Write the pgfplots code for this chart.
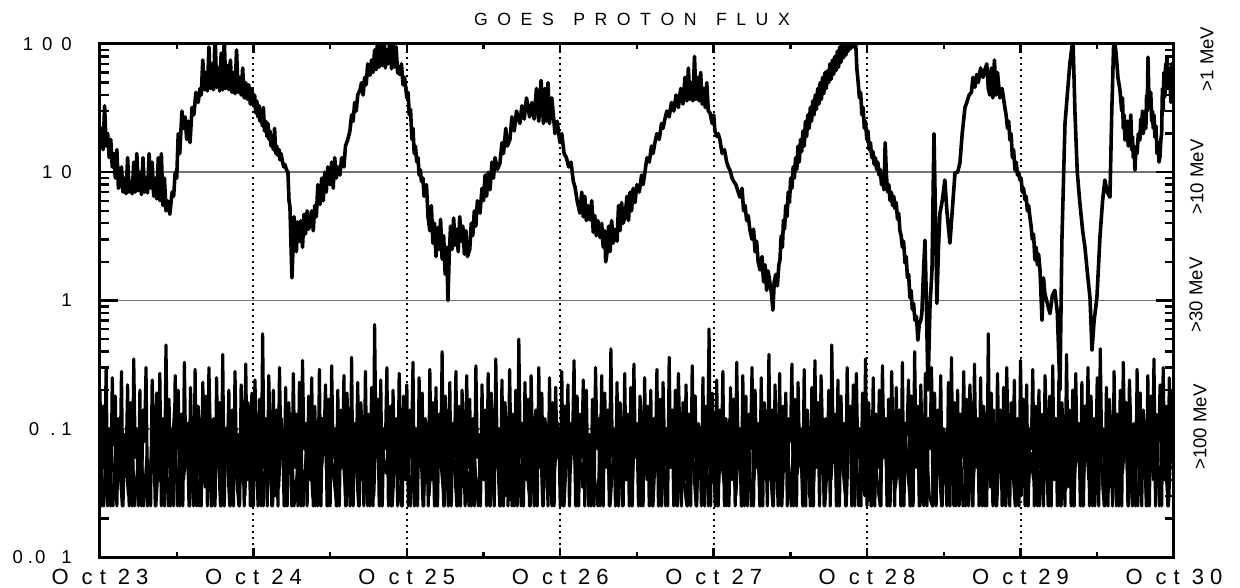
\documentclass[border=0pt]{standalone}
\usepackage{fontspec}
\setmainfont{Liberation Sans}
\usepackage{pgfplots}
\pgfplotsset{compat=1.18}
\usepackage{pgfplotstable}

\newcommand{\oct}[2]{O\kern13bp c\kern7bp t\kern12bp #1\kern6bp #2}
\newcommand{\ls}{\kern9.5bp}

% background channel A (one value every 0.01 day from Oct 23 00:00)
\pgfplotstableread[row sep=\\, header=false]{
0.2\\0.025\\0.15\\0.05\\0.3\\0.025\\0.1\\0.025\\0.25\\0.075\\0.18\\0.025\\0.12\\0.04\\0.28\\0.025\\0.09\\0.05\\0.22\\0.025\\
0.16\\0.025\\0.35\\0.06\\0.1\\0.025\\0.2\\0.025\\0.14\\0.08\\0.3\\0.025\\0.05\\0.025\\0.24\\0.1\\0.025\\0.19\\0.04\\0.27\\
0.025\\0.12\\0.025\\0.45\\0.05\\0.17\\0.025\\0.1\\0.025\\0.26\\0.07\\0.2\\0.025\\0.13\\0.025\\0.33\\0.05\\0.11\\0.025\\0.21\\
0.06\\0.025\\0.29\\0.025\\0.15\\0.09\\0.025\\0.23\\0.04\\0.18\\0.025\\0.3\\0.08\\0.025\\0.12\\0.025\\0.25\\0.05\\0.16\\0.025\\
0.38\\0.025\\0.1\\0.06\\0.2\\0.025\\0.14\\0.025\\0.28\\0.05\\0.09\\0.025\\0.22\\0.11\\0.025\\0.32\\0.04\\0.15\\0.025\\0.19\\
0.025\\0.24\\0.07\\0.025\\0.17\\0.025\\0.55\\0.05\\0.12\\0.025\\0.26\\0.08\\0.025\\0.2\\0.03\\0.14\\0.025\\0.3\\0.06\\0.1\\
0.025\\0.21\\0.025\\0.16\\0.09\\0.025\\0.27\\0.05\\0.13\\0.025\\0.23\\0.025\\0.34\\0.07\\0.11\\0.025\\0.18\\0.04\\0.25\\0.025\\
0.15\\0.05\\0.025\\0.29\\0.025\\0.12\\0.08\\0.22\\0.025\\0.17\\0.025\\0.31\\0.06\\0.1\\0.025\\0.2\\0.025\\0.14\\0.05\\0.26\\
0.025\\0.19\\0.07\\0.025\\0.36\\0.025\\0.11\\0.05\\0.23\\0.025\\0.16\\0.09\\0.025\\0.28\\0.04\\0.13\\0.025\\0.21\\0.025\\0.65\\
0.06\\0.17\\0.025\\0.24\\0.025\\0.1\\0.07\\0.3\\0.025\\0.15\\0.025\\0.2\\0.05\\0.12\\0.025\\0.27\\0.08\\0.025\\0.18\\0.04\\
0.22\\0.025\\0.14\\0.06\\0.33\\0.025\\0.1\\0.025\\0.25\\0.05\\0.19\\0.025\\0.12\\0.09\\0.025\\0.29\\0.04\\0.16\\0.025\\0.21\\
0.025\\0.13\\0.05\\0.4\\0.025\\0.18\\0.07\\0.025\\0.23\\0.025\\0.11\\0.06\\0.28\\0.025\\0.15\\0.025\\0.2\\0.08\\0.025\\0.26\\
0.05\\0.17\\0.025\\0.12\\0.025\\0.31\\0.06\\0.09\\0.025\\0.22\\0.04\\0.14\\0.025\\0.27\\0.025\\0.19\\0.07\\0.025\\0.35\\0.05\\
0.1\\0.025\\0.24\\0.025\\0.16\\0.08\\0.025\\0.29\\0.05\\0.13\\0.025\\0.2\\0.025\\0.5\\0.06\\0.11\\0.025\\0.23\\0.04\\0.17\\
0.025\\0.26\\0.07\\0.025\\0.14\\0.025\\0.3\\0.05\\0.19\\0.025\\0.12\\0.09\\0.025\\0.25\\0.03\\0.16\\0.025\\0.21\\0.06\\0.1\\
0.025\\0.28\\0.025\\0.15\\0.05\\0.22\\0.025\\0.11\\0.08\\0.34\\0.025\\0.18\\0.025\\0.13\\0.06\\0.24\\0.025\\0.2\\0.04\\0.09\\
0.025\\0.17\\0.025\\0.3\\0.07\\0.12\\0.025\\0.26\\0.025\\0.19\\0.05\\0.14\\0.025\\0.42\\0.06\\0.1\\0.025\\0.23\\0.025\\0.16\\
0.08\\0.025\\0.27\\0.04\\0.13\\0.025\\0.21\\0.025\\0.32\\0.06\\0.11\\0.025\\0.18\\0.09\\0.025\\0.25\\0.05\\0.15\\0.025\\0.2\\
0.025\\0.12\\0.06\\0.29\\0.025\\0.17\\0.025\\0.23\\0.07\\0.1\\0.025\\0.36\\0.05\\0.14\\0.025\\0.2\\0.025\\0.27\\0.08\\0.025\\
0.16\\0.04\\0.22\\0.025\\0.13\\0.025\\0.31\\0.06\\0.18\\0.025\\0.11\\0.09\\0.025\\0.25\\0.025\\0.15\\0.05\\0.6\\0.025\\0.19\\
0.07\\0.025\\0.24\\0.025\\0.14\\0.05\\0.28\\0.025\\0.12\\0.08\\0.025\\0.21\\0.04\\0.17\\0.025\\0.33\\0.06\\0.1\\0.025\\0.26\\
0.025\\0.18\\0.025\\0.13\\0.07\\0.3\\0.025\\0.2\\0.05\\0.11\\0.025\\0.25\\0.025\\0.16\\0.09\\0.025\\0.38\\0.04\\0.14\\0.025\\
0.22\\0.06\\0.025\\0.27\\0.025\\0.15\\0.05\\0.19\\0.025\\0.12\\0.08\\0.32\\0.025\\0.17\\0.025\\0.23\\0.06\\0.1\\0.025\\0.29\\
0.025\\0.14\\0.07\\0.025\\0.21\\0.025\\0.34\\0.05\\0.16\\0.025\\0.26\\0.09\\0.025\\0.12\\0.04\\0.2\\0.025\\0.45\\0.06\\0.13\\
0.025\\0.24\\0.025\\0.18\\0.05\\0.11\\0.025\\0.3\\0.07\\0.15\\0.025\\0.22\\0.025\\0.27\\0.06\\0.1\\0.025\\0.19\\0.04\\0.35\\
0.025\\0.16\\0.08\\0.025\\0.25\\0.025\\0.13\\0.05\\0.2\\0.025\\0.31\\0.06\\0.12\\0.025\\0.17\\0.025\\0.28\\0.07\\0.025\\0.21\\
0.05\\0.14\\0.025\\0.33\\0.025\\0.11\\0.09\\0.24\\0.025\\0.18\\0.025\\0.4\\0.05\\0.15\\0.025\\0.22\\0.06\\0.025\\0.27\\0.025\\
0.12\\0.07\\0.3\\0.025\\0.19\\0.025\\0.14\\0.05\\0.26\\0.025\\0.1\\0.08\\0.025\\0.23\\0.025\\0.36\\0.04\\0.16\\0.025\\0.2\\
0.025\\0.13\\0.06\\0.28\\0.025\\0.17\\0.025\\0.22\\0.09\\0.025\\0.32\\0.05\\0.12\\0.025\\0.25\\0.025\\0.15\\0.07\\0.025\\0.55\\
0.04\\0.19\\0.025\\0.11\\0.025\\0.27\\0.06\\0.14\\0.025\\0.21\\0.025\\0.3\\0.08\\0.025\\0.16\\0.05\\0.24\\0.025\\0.12\\0.025\\
0.34\\0.06\\0.17\\0.025\\0.22\\0.025\\0.1\\0.07\\0.29\\0.025\\0.15\\0.025\\0.2\\0.05\\0.13\\0.025\\0.26\\0.09\\0.025\\0.18\\
0.025\\0.31\\0.04\\0.12\\0.025\\0.24\\0.025\\0.16\\0.08\\0.025\\0.38\\0.05\\0.14\\0.025\\0.2\\0.025\\0.27\\0.06\\0.11\\0.025\\
0.23\\0.025\\0.15\\0.07\\0.3\\0.025\\0.18\\0.025\\0.12\\0.05\\0.25\\0.025\\0.42\\0.06\\0.1\\0.025\\0.21\\0.025\\0.17\\0.08\\
0.025\\0.28\\0.04\\0.13\\0.025\\0.2\\0.025\\0.33\\0.06\\0.16\\0.025\\0.24\\0.09\\0.025\\0.11\\0.025\\0.29\\0.05\\0.19\\0.025\\
0.14\\0.07\\0.025\\0.26\\0.025\\0.18\\0.05\\0.35\\0.025\\0.12\\0.08\\0.22\\0.025\\0.3\\0.04\\0.15\\0.025\\0.25\\0.06\\0.2\\
0.1\\
}\lowband

% background channel B (one value every 0.02 day, starting 0.005 day after Oct 23 00:00)
\pgfplotstableread[row sep=\\, header=false]{
0.05\\0.025\\0.08\\0.04\\0.025\\0.1\\0.06\\0.025\\0.07\\0.03\\0.12\\0.025\\0.05\\0.09\\0.025\\0.06\\0.04\\0.11\\0.025\\0.07\\
0.03\\0.09\\0.025\\0.05\\0.14\\0.025\\0.06\\0.04\\0.08\\0.025\\0.1\\0.05\\0.025\\0.07\\0.035\\0.13\\0.025\\0.06\\0.09\\0.025\\
0.045\\0.08\\0.025\\0.11\\0.05\\0.025\\0.07\\0.03\\0.16\\0.025\\0.06\\0.09\\0.04\\0.025\\0.1\\0.055\\0.025\\0.08\\0.035\\0.12\\
0.025\\0.06\\0.1\\0.025\\0.045\\0.09\\0.025\\0.07\\0.13\\0.03\\0.025\\0.08\\0.05\\0.11\\0.025\\0.065\\0.04\\0.025\\0.09\\0.06\\
0.025\\0.12\\0.04\\0.07\\0.025\\0.1\\0.05\\0.025\\0.085\\0.03\\0.15\\0.025\\0.06\\0.045\\0.1\\0.025\\0.07\\0.035\\0.025\\0.11\\
0.055\\0.025\\0.09\\0.04\\0.12\\0.025\\0.065\\0.03\\0.08\\0.025\\0.1\\0.05\\0.025\\0.14\\0.04\\0.07\\0.025\\0.09\\0.035\\0.06\\
0.025\\0.11\\0.05\\0.025\\0.08\\0.04\\0.13\\0.025\\0.06\\0.095\\0.025\\0.07\\0.03\\0.12\\0.025\\0.05\\0.085\\0.025\\0.1\\0.045\\
0.025\\0.075\\0.04\\0.16\\0.025\\0.06\\0.09\\0.025\\0.05\\0.11\\0.03\\0.025\\0.08\\0.045\\0.12\\0.025\\0.065\\0.035\\0.1\\0.025\\
0.07\\0.04\\0.025\\0.13\\0.05\\0.09\\0.025\\0.06\\0.035\\0.11\\0.025\\0.08\\0.045\\0.025\\0.1\\0.055\\0.025\\0.14\\0.04\\0.07\\
0.025\\0.09\\0.03\\0.12\\0.025\\0.065\\0.05\\0.1\\0.025\\0.075\\0.04\\0.025\\0.11\\0.06\\0.025\\0.085\\0.035\\0.13\\0.025\\0.05\\
0.1\\0.025\\0.07\\0.04\\0.025\\0.12\\0.055\\0.03\\0.09\\0.025\\0.065\\0.11\\0.025\\0.045\\0.08\\0.025\\0.15\\0.04\\0.06\\0.025\\
0.09\\0.035\\0.025\\0.1\\0.06\\0.025\\0.13\\0.045\\0.075\\0.025\\0.11\\0.03\\0.025\\0.085\\0.05\\0.12\\0.025\\0.065\\0.04\\0.1\\
0.025\\0.07\\0.045\\0.025\\0.14\\0.05\\0.09\\0.025\\0.06\\0.03\\0.11\\0.025\\0.08\\0.04\\0.025\\0.12\\0.055\\0.025\\0.095\\0.035\\
0.06\\0.025\\0.11\\0.045\\0.025\\0.08\\0.13\\0.025\\0.05\\0.09\\0.03\\0.025\\0.1\\0.065\\0.025\\0.075\\0.04\\0.16\\0.025\\0.055\\
0.085\\0.025\\0.04\\0.12\\0.025\\0.07\\0.05\\0.1\\0.025\\0.06\\0.035\\0.14\\0.025\\0.08\\0.045\\0.025\\0.11\\0.06\\0.025\\0.09\\
0.03\\0.13\\0.025\\0.065\\0.04\\0.1\\0.025\\0.075\\0.05\\0.025\\0.12\\0.045\\0.09\\0.025\\0.06\\0.035\\0.11\\0.025\\0.08\\0.05\\
0.025\\0.1\\0.04\\0.07\\0.025\\0.15\\0.055\\0.025\\0.09\\0.035\\0.12\\0.025\\0.065\\0.045\\0.1\\0.025\\0.08\\0.03\\0.025\\0.11\\
0.06\\0.025\\0.09\\0.04\\0.13\\0.025\\0.07\\0.05\\0.025\\0.1\\0.06\\
}\lowbandb

\begin{document}
\begin{tikzpicture}
\path[use as bounding box] (-100bp,-31bp) rectangle (1140bp,557bp);
\begin{axis}[
  at={(0,0)}, anchor=south west,
  scale only axis, width=1074bp, height=513bp,
  ymode=log, xmin=0, xmax=7, ymin=0.01, ymax=100,
  axis line style={line width=3bp},
  tick align=inside,
  tick style={black, line width=2.4bp},
  major tick length=18bp, minor tick length=9bp,
  xtick style={/pgfplots/major tick length=9bp, /pgfplots/minor tick length=5bp},
  xtick={0,1,2,3,4,5,6,7},
  minor xtick={0.5,1.5,2.5,3.5,4.5,5.5,6.5},
  xticklabels={\oct{2}{3},\oct{2}{4},\oct{2}{5},\oct{2}{6},\oct{2}{7},\oct{2}{8},\oct{2}{9},\oct{3}{0}},
  xticklabel style={font=\fontsize{22bp}{24bp}\selectfont, anchor=north, inner sep=0pt, yshift=-12bp},
  ytick={0.01,0.1,1,10,100},
  yticklabels={0\kern5bp .\kern2bp 0\kern16bp 1, 0\kern11bp .\kern6bp 1, 1, 1\kern9bp 0, 1\kern9bp 0\kern9bp 0},
  yticklabel style={font=\fontsize{18.6bp}{20bp}\selectfont, anchor=east, inner sep=0pt, xshift=-28bp},
  yticklabel pos=left,
  xmajorgrids, ymajorgrids,
  major x grid style={black, line width=2bp, dash pattern=on 2bp off 4bp},
  major y grid style={black!55, line width=1.6bp},
]
\addplot[black, line width=3.2bp, line join=round] table[x expr=\coordindex*0.01, y index=0] {\lowband};
\addplot[black, line width=3bp, line join=round] table[x expr=\coordindex*0.02+0.005, y index=0] {\lowbandb};
\addplot[black, line width=3.6bp, line join=round] coordinates {
(0.000,18) (0.010,22) (0.020,15) (0.030,33) (0.040,16) (0.050,20) (0.060,13) (0.070,18) (0.080,11) (0.090,14)
(0.100,9) (0.110,15) (0.120,7.5) (0.130,8) (0.140,11) (0.150,7) (0.160,9) (0.170,6.8) (0.180,13) (0.190,7)
(0.200,8.5) (0.210,6.8) (0.220,12) (0.230,7) (0.240,14) (0.250,7.2) (0.260,10) (0.270,6.7) (0.280,13) (0.290,7)
(0.300,9) (0.310,6.9) (0.320,14) (0.330,7.5) (0.340,12) (0.350,6.5) (0.360,9) (0.370,6.2) (0.380,13) (0.390,6)
(0.400,14) (0.410,5.5) (0.420,9) (0.430,5) (0.440,6) (0.455,4.7) (0.470,7) (0.480,6.5) (0.490,10) (0.500,9)
(0.510,20) (0.520,14) (0.534,30) (0.545,22) (0.555,27) (0.565,18) (0.575,25) (0.587,17) (0.600,32) (0.612,28)
(0.625,42) (0.640,35) (0.652,45) (0.660,40) (0.670,75) (0.680,44) (0.690,60) (0.700,43) (0.710,95) (0.720,45)
(0.730,70) (0.740,44) (0.750,120) (0.760,46) (0.770,65) (0.780,43) (0.790,85) (0.800,44) (0.810,110) (0.820,45)
(0.830,68) (0.840,44) (0.850,75) (0.860,42) (0.870,60) (0.880,41) (0.890,90) (0.900,42) (0.910,55) (0.920,40)
(0.930,65) (0.940,38) (0.950,50) (0.960,37) (0.970,48) (0.980,34) (0.990,45)
(1.000,33) (1.008,40) (1.015,29) (1.022,36) (1.030,27) (1.038,33) (1.043,25) (1.050,30) (1.058,23) (1.065,32)
(1.072,21) (1.080,25) (1.088,19) (1.095,24) (1.102,18) (1.108,21) (1.115,16) (1.122,19) (1.130,15) (1.138,22)
(1.145,14) (1.152,16) (1.160,13.5) (1.167,15) (1.173,12.5) (1.180,14) (1.190,12) (1.198,11) (1.205,11.5) (1.215,10.5)
(1.225,10) (1.232,6) (1.238,5.4) (1.244,3) (1.251,1.5)
(1.258,2.5) (1.265,4.5) (1.272,3.2) (1.280,2.4) (1.288,4.1) (1.295,3) (1.300,2.9) (1.310,4.2) (1.320,2.6) (1.330,4.7)
(1.340,3.3) (1.350,5) (1.360,3.6) (1.369,4) (1.380,5) (1.390,3.5) (1.400,5.5) (1.410,4.5) (1.420,8) (1.434,5.6)
(1.445,9) (1.455,6) (1.465,10) (1.475,7) (1.485,11) (1.499,8) (1.510,12) (1.520,7.5) (1.530,13) (1.540,9)
(1.550,11) (1.564,9.5) (1.575,13) (1.590,11) (1.600,16) (1.615,18) (1.629,21) (1.640,28) (1.650,25) (1.660,35)
(1.670,30) (1.680,40) (1.695,44) (1.705,50) (1.715,40) (1.725,55) (1.735,48) (1.745,70) (1.760,57) (1.770,75)
(1.780,60) (1.790,90) (1.800,63) (1.810,120) (1.820,66) (1.830,100) (1.840,68) (1.850,130) (1.860,65) (1.870,90)
(1.880,70) (1.890,120) (1.900,64) (1.910,110) (1.920,66) (1.930,95) (1.940,60) (1.955,58) (1.965,70) (1.975,48)
(1.985,55) (2.000,38) (2.008,42) (2.016,28) (2.024,31) (2.033,18) (2.040,22) (2.048,14) (2.056,16) (2.065,12)
(2.073,13) (2.080,9.5) (2.088,10.5) (2.095,8.5) (2.105,9) (2.112,6.5) (2.118,7.5) (2.128,8) (2.138,4.5)
(2.150,3.5) (2.160,5.5) (2.170,2.8) (2.180,4) (2.190,2.2)
(2.200,3.7) (2.210,2.5) (2.220,4.3) (2.230,2.1) (2.240,3.2) (2.250,1.6) (2.260,2.6) (2.268,1.0) (2.276,2.2) (2.285,3.8)
(2.295,2.5) (2.305,4.4) (2.315,2.7) (2.325,3.6) (2.335,2.4) (2.345,4.5) (2.355,2.9) (2.365,3.8) (2.375,2.3) (2.385,3.5)
(2.395,2.2) (2.410,2.5) (2.420,4) (2.430,3.2) (2.440,5) (2.450,3.8) (2.460,6) (2.477,4.8) (2.490,7.5) (2.500,6)
(2.510,9.5) (2.520,6.5) (2.530,10) (2.542,7.3) (2.555,12) (2.565,9) (2.575,13) (2.590,10.5) (2.607,11.8) (2.620,17)
(2.630,14) (2.645,22) (2.655,16) (2.672,18) (2.685,27) (2.700,21) (2.715,30) (2.737,24) (2.750,33) (2.765,26)
(2.780,38) (2.800,27) (2.815,35) (2.830,26) (2.845,45) (2.860,25) (2.875,52) (2.890,24) (2.900,45) (2.910,25)
(2.920,50) (2.930,24) (2.945,38) (2.966,20) (2.980,25) (2.998,17) (3.010,20) (3.025,14) (3.040,13) (3.055,11)
(3.070,12) (3.085,8.5) (3.096,7.7) (3.110,6) (3.128,4.8) (3.140,7) (3.150,4.5) (3.160,6.5) (3.170,4.2) (3.180,5.5)
(3.194,4.25) (3.205,6) (3.215,3.4) (3.225,4.6) (3.235,3.2) (3.245,4.2) (3.259,3.1) (3.270,4) (3.280,2.6) (3.290,3.5)
(3.296,2) (3.304,2.3) (3.315,3.8) (3.325,2.4) (3.335,4.2) (3.345,2.8) (3.357,3.6) (3.370,2.9) (3.380,5.5) (3.390,3.5)
(3.400,5.8) (3.410,4) (3.422,4.5) (3.435,6.5) (3.445,4.2) (3.455,7) (3.465,5) (3.475,7.5) (3.487,5.8) (3.500,8)
(3.515,7) (3.530,9.5) (3.540,8) (3.552,10) (3.565,13) (3.580,12) (3.595,16) (3.605,14) (3.617,17) (3.630,20)
(3.645,18) (3.660,24) (3.670,22) (3.682,26) (3.695,30) (3.710,27) (3.725,35) (3.740,30) (3.755,40) (3.770,32)
(3.785,45) (3.800,34) (3.813,55) (3.825,36) (3.835,65) (3.845,37) (3.855,50) (3.865,36) (3.875,80) (3.885,37)
(3.895,55) (3.905,36) (3.915,60) (3.925,34) (3.935,45) (3.945,32) (3.955,50) (3.965,30) (3.976,29) (3.990,24)
(4.000,28) (4.008,21) (4.020,19) (4.030,20) (4.041,17.8) (4.055,14) (4.070,15) (4.085,12) (4.095,11) (4.106,10.4)
(4.120,9) (4.130,8.5) (4.145,8) (4.160,7) (4.171,6.4) (4.185,7.5) (4.195,5) (4.205,5.5) (4.215,4.2) (4.225,4.6)
(4.236,3.55) (4.250,3) (4.260,3.6) (4.270,2.4) (4.280,2.9) (4.290,2) (4.302,1.73) (4.315,2.2) (4.325,1.4) (4.335,1.9)
(4.345,1.2) (4.355,1.7) (4.367,1.37) (4.378,1.1) (4.386,0.84) (4.395,1.4) (4.405,1.6) (4.415,1.3) (4.425,1.9) (4.432,2.07)
(4.440,3.2) (4.448,2.6) (4.455,4.25) (4.462,3.6) (4.470,5.5) (4.478,4.5) (4.486,7) (4.494,5.8) (4.502,9) (4.510,7.5)
(4.518,11) (4.526,9) (4.534,13) (4.542,10.5) (4.550,16) (4.558,12) (4.566,18) (4.574,14.5) (4.582,21) (4.590,16)
(4.598,25) (4.606,19) (4.614,28) (4.622,22) (4.630,32) (4.638,25) (4.646,36) (4.654,28) (4.662,40) (4.670,31)
(4.678,45) (4.686,34) (4.694,50) (4.702,37) (4.710,55) (4.718,41) (4.726,60) (4.734,45) (4.742,62) (4.750,50)
(4.758,70) (4.766,53) (4.774,75) (4.782,58) (4.790,80) (4.798,62) (4.806,88) (4.814,66) (4.822,95) (4.830,72)
(4.838,100) (4.846,78) (4.854,110) (4.862,82) (4.870,120) (4.878,88) (4.886,130) (4.894,92) (4.902,125) (4.910,95)
(4.918,130) (4.926,100) (4.934,63) (4.942,50) (4.950,38) (4.958,42) (4.966,28) (4.974,32) (4.982,22) (4.990,25)
(4.998,18) (5.006,21) (5.014,15) (5.022,17) (5.030,13) (5.038,14.5) (5.046,11.5) (5.054,13) (5.062,10.5) (5.070,12)
(5.078,9.5) (5.086,10.5) (5.094,8) (5.102,9.5) (5.110,7.3) (5.118,17) (5.126,9.5) (5.134,7) (5.142,8) (5.150,6)
(5.158,7) (5.166,5.5) (5.174,6.5) (5.182,5.2) (5.190,5.8) (5.198,4.3) (5.206,4.8) (5.214,3.5) (5.222,3.2) (5.230,2.6)
(5.238,2.9) (5.247,1.96) (5.255,2.2) (5.263,1.5) (5.271,1.6) (5.279,1.05) (5.287,1.2) (5.295,0.85) (5.303,0.95) (5.312,0.7)
(5.322,0.75) (5.331,0.49) (5.340,0.65) (5.350,0.7)
(5.357,0.79) (5.367,1.6) (5.377,2.95) (5.385,1.2) (5.397,0.2) (5.410,0.9) (5.423,1.73) (5.436,20) (5.445,5) (5.455,0.95)
(5.465,2.5) (5.475,4.8) (5.490,6) (5.507,8.7) (5.520,5) (5.540,2.8) (5.555,5) (5.573,9.9) (5.590,10) (5.605,11.8)
(5.620,20) (5.638,32) (5.650,35) (5.665,40) (5.680,42) (5.690,55) (5.703,46) (5.715,58) (5.725,50) (5.740,65)
(5.755,55) (5.768,63) (5.780,70) (5.790,45) (5.800,40) (5.810,65) (5.820,38) (5.830,75) (5.840,40) (5.850,60)
(5.866,38) (5.880,45) (5.898,32) (5.906,28) (5.915,22) (5.923,25) (5.931,17.8) (5.939,20) (5.947,13) (5.955,15)
(5.964,10.4) (5.972,12) (5.980,9.5) (5.988,10) (5.996,8.7) (6.004,9) (6.012,7) (6.020,7.5) (6.029,6.1) (6.037,6.5)
(6.045,5) (6.053,5.5) (6.061,4.5) (6.069,3.8) (6.077,3) (6.085,3.3) (6.094,2.07) (6.102,2.6) (6.110,1.9) (6.118,2.3)
(6.127,1.73) (6.135,1.0) (6.140,0.7) (6.150,1.5) (6.159,1.13)
(6.175,0.95) (6.192,0.79) (6.208,1.1) (6.224,1.2) (6.240,0.8) (6.257,0.2) (6.270,3) (6.290,24) (6.305,40) (6.322,71)
(6.342,110) (6.355,29) (6.370,10) (6.387,5.75) (6.405,3.5) (6.420,2.6) (6.437,1.6) (6.453,1.05) (6.466,0.41) (6.480,0.7)
(6.498,1.05) (6.518,3.13) (6.535,6) (6.550,8.7) (6.565,7) (6.583,6.4) (6.595,30) (6.609,120) (6.625,80) (6.635,55)
(6.648,43.8) (6.655,35) (6.660,30) (6.665,38) (6.670,22) (6.676,28) (6.681,17.8) (6.688,24) (6.695,25) (6.702,16)
(6.713,21.4) (6.719,28) (6.725,15) (6.730,19) (6.735,13) (6.740,16) (6.746,10.4) (6.752,15) (6.760,14) (6.768,20)
(6.778,17.8) (6.784,26) (6.790,22) (6.795,30) (6.800,20) (6.806,24) (6.811,29) (6.817,22) (6.822,40) (6.826,30)
(6.831,79) (6.837,38) (6.843,34.7) (6.849,42) (6.855,25) (6.860,30) (6.865,22) (6.870,28) (6.876,18.8) (6.883,23)
(6.890,14) (6.896,17) (6.903,12) (6.909,13.2) (6.915,18) (6.920,20) (6.925,45) (6.930,30) (6.935,60) (6.941,38.6)
(6.946,70) (6.950,60) (6.955,80) (6.960,45) (6.967,65) (6.974,52) (6.980,35) (6.985,70) (6.992,40) (7.000,43.8)
};
\end{axis}
\node[font=\fontsize{17.7bp}{19bp}\selectfont, inner sep=0pt] at (532bp,537.5bp)
  {G\ls O\ls E\ls S\kern19.5bp P\ls R\ls O\ls T\ls O\ls N\kern19.5bp F\ls L\ls U\ls X};
\begin{scope}[every node/.style={rotate=90, inner sep=0pt, font=\fontsize{18.6bp}{20bp}\selectfont}]
\node at (1107bp,498bp) {>1 MeV};
\node at (1097bp,380bp) {>10 MeV};
\node at (1096bp,262bp) {>30 MeV};
\node at (1100bp,130bp) {>100 MeV};
\end{scope}
\end{tikzpicture}
\end{document}
